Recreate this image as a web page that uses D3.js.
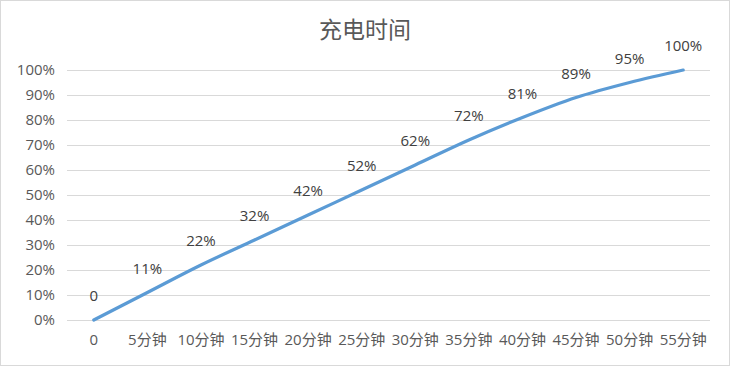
<!DOCTYPE html>
<html>
<head>
<meta charset="utf-8">
<script src="https://cdn.jsdelivr.net/npm/d3@7"></script>
<style>
  body { margin: 0; background: #fff; }
  text { font-family: "Open Sans", "Noto Sans CJK SC", sans-serif; }
</style>
</head>
<body>
<div id="chart"></div>
<script>
// data
const title = "充电时间";
const categories = ["0", "5分钟", "10分钟", "15分钟", "20分钟", "25分钟", "30分钟", "35分钟", "40分钟", "45分钟", "50分钟", "55分钟"];
const values = [0, 0.11, 0.22, 0.32, 0.42, 0.52, 0.62, 0.72, 0.81, 0.89, 0.95, 1.00];
const valueLabels = ["0", "11%", "22%", "32%", "42%", "52%", "62%", "72%", "81%", "89%", "95%", "100%"];
const yTicks = [0, 0.1, 0.2, 0.3, 0.4, 0.5, 0.6, 0.7, 0.8, 0.9, 1.0];

const W = 730, H = 366;
const margin = { top: 70, right: 20, bottom: 46, left: 67 };
const width = W - margin.left - margin.right;
const height = H - margin.top - margin.bottom;
const fontStack = "\"Open Sans\", \"Noto Sans CJK SC\", sans-serif";

const svg = d3.select("#chart")
	.append("svg")
		.attr("width", W)
		.attr("height", H);

// chart border
svg.append("rect")
	.attr("x", 0.5).attr("y", 0.5)
	.attr("width", W - 1).attr("height", H - 1)
	.attr("fill", "#fff")
	.attr("stroke", "#d9d9d9");

svg.append("text")
	.attr("x", W / 2)
	.attr("y", 38)
	.attr("text-anchor", "middle")
	.style("font-size", "23px")
	.style("fill", "#595959")
	.style("font-family", "\"Noto Sans CJK SC\", sans-serif")
	.text(title);

const g = svg.append("g")
	.attr("transform", `translate(${margin.left},${margin.top})`);

const x = d3.scaleBand()
	.domain(categories)
	.range([0, width]);

const y = d3.scaleLinear()
	.domain([0, 1])
	.range([height, 0]);

// gridlines
g.selectAll(".grid")
	.data(yTicks)
	.enter()
	.append("line")
		.attr("x1", 0)
		.attr("x2", width)
		.attr("y1", d => Math.round(y(d)) + 0.5)
		.attr("y2", d => Math.round(y(d)) + 0.5)
		.attr("stroke", "#d9d9d9")
		.attr("stroke-width", 1);

// y axis labels
const yAxis = g.append("g")
	.call(d3.axisLeft(y).tickValues(yTicks).tickFormat(d3.format(".0%")).tickSize(0).tickPadding(12));
yAxis.select(".domain").remove();
yAxis.selectAll("text")
	.style("font-size", "15px")
	.style("fill", "#595959")
	.style("font-family", fontStack);

// x axis labels
const xAxis = g.append("g")
	.attr("transform", `translate(0,${height})`)
	.call(d3.axisBottom(x).tickSize(0).tickPadding(14));
xAxis.select(".domain").remove();
xAxis.selectAll("text")
	.style("font-size", "15px")
	.style("fill", "#595959")
	.style("font-family", fontStack);

const pts = categories.map((c, i) => ({ c, v: values[i], label: valueLabels[i] }));

const line = d3.line()
	.x(d => x(d.c) + x.bandwidth() / 2)
	.y(d => y(d.v))
	.curve(d3.curveMonotoneX);

g.append("path")
	.datum(pts)
	.attr("d", line)
	.attr("fill", "none")
	.attr("stroke", "#5b9bd5")
	.attr("stroke-width", 3.2)
	.attr("stroke-linecap", "round");

g.selectAll(".lbl")
	.data(pts)
	.enter()
	.append("text")
		.attr("x", d => x(d.c) + x.bandwidth() / 2)
		.attr("y", d => y(d.v) - 19)
		.attr("text-anchor", "middle")
		.style("font-size", "15px")
		.style("fill", "#404040")
		.text(d => d.label);
</script>
</body>
</html>
